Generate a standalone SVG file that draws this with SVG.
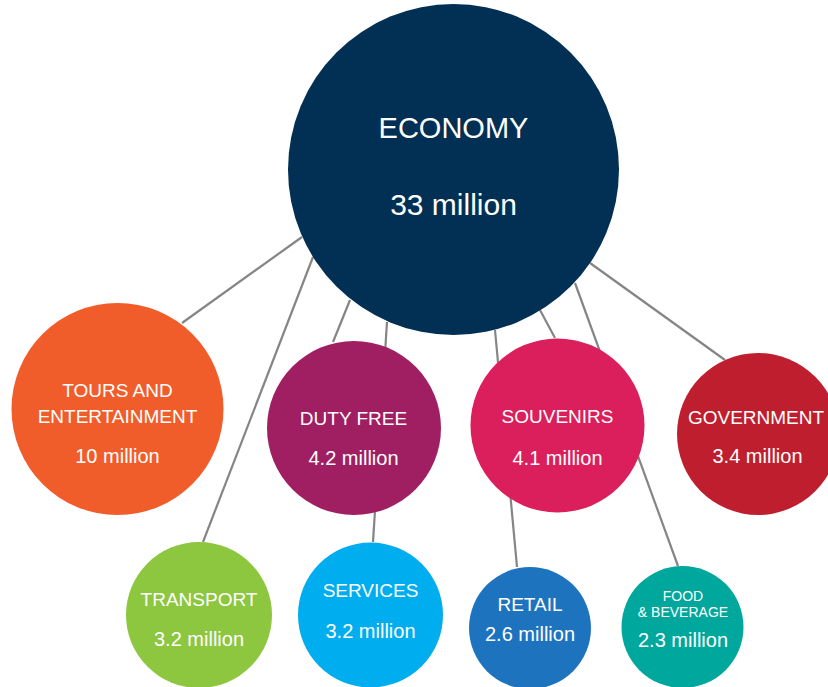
<svg xmlns="http://www.w3.org/2000/svg" width="828" height="687" viewBox="0 0 828 687">
<style>
.ln{stroke:#858585;stroke-width:2.2;fill:none}
text{font-family:"Liberation Sans",Arial,sans-serif;fill:#fff;text-anchor:middle}
.m{font-size:19px}
.v{font-size:20px}
.s{font-size:14px}
.b{font-size:29px}
.bv{font-size:30px}
</style>
<rect width="828" height="687" fill="#fff"/>
<g id="connectors">
<line class="ln" x1="302" y1="237" x2="182" y2="323"/>
<line class="ln" x1="313" y1="257" x2="203" y2="542"/>
<line class="ln" x1="350" y1="300" x2="333" y2="342"/>
<line class="ln" x1="387" y1="322" x2="373" y2="542"/>
<line class="ln" x1="495" y1="330" x2="517" y2="567"/>
<line class="ln" x1="540" y1="310" x2="555" y2="338"/>
<line class="ln" x1="575" y1="283" x2="678" y2="566"/>
<line class="ln" x1="590" y1="263" x2="725" y2="360"/>
</g>
<g id="economy">
<circle cx="453.5" cy="169.5" r="165.5" fill="#023054"/>
<text class="b" x="453.5" y="138">ECONOMY</text>
<text class="bv" x="453.5" y="215">33 million</text>
</g>
<g id="tours">
<circle cx="117.5" cy="409" r="106" fill="#F15D2A"/>
<text class="m" x="117.5" y="397">TOURS AND</text>
<text class="m" x="117.5" y="423">ENTERTAINMENT</text>
<text class="v" x="117.5" y="463">10 million</text>
</g>
<g id="dutyfree">
<circle cx="354" cy="428" r="87" fill="#A01F62"/>
<text class="m" x="353.5" y="425">DUTY FREE</text>
<text class="v" x="353.5" y="465">4.2 million</text>
</g>
<g id="souvenirs">
<circle cx="557.5" cy="425.5" r="87" fill="#DB1F5C"/>
<text class="m" x="557.5" y="423">SOUVENIRS</text>
<text class="v" x="557.5" y="465">4.1 million</text>
</g>
<g id="government">
<circle cx="758" cy="434" r="81" fill="#BF1E2E"/>
<text class="m" x="756" y="424">GOVERNMENT</text>
<text class="v" x="757.5" y="463">3.4 million</text>
</g>
<g id="transport">
<circle cx="199" cy="615" r="73" fill="#8DC63F"/>
<text class="m" x="199" y="606">TRANSPORT</text>
<text class="v" x="199" y="646">3.2 million</text>
</g>
<g id="services">
<circle cx="370.5" cy="615" r="72.5" fill="#00AEEF"/>
<text class="m" x="370.5" y="597">SERVICES</text>
<text class="v" x="370.5" y="638">3.2 million</text>
</g>
<g id="retail">
<circle cx="530" cy="628" r="61" fill="#1E73BE"/>
<text class="m" x="530" y="611">RETAIL</text>
<text class="v" x="530" y="641">2.6 million</text>
</g>
<g id="food">
<circle cx="682.5" cy="627" r="61" fill="#00A79D"/>
<text class="s" x="683" y="601">FOOD</text>
<text class="s" x="683" y="617">&amp; BEVERAGE</text>
<text class="v" x="683" y="647">2.3 million</text>
</g>
</svg>
